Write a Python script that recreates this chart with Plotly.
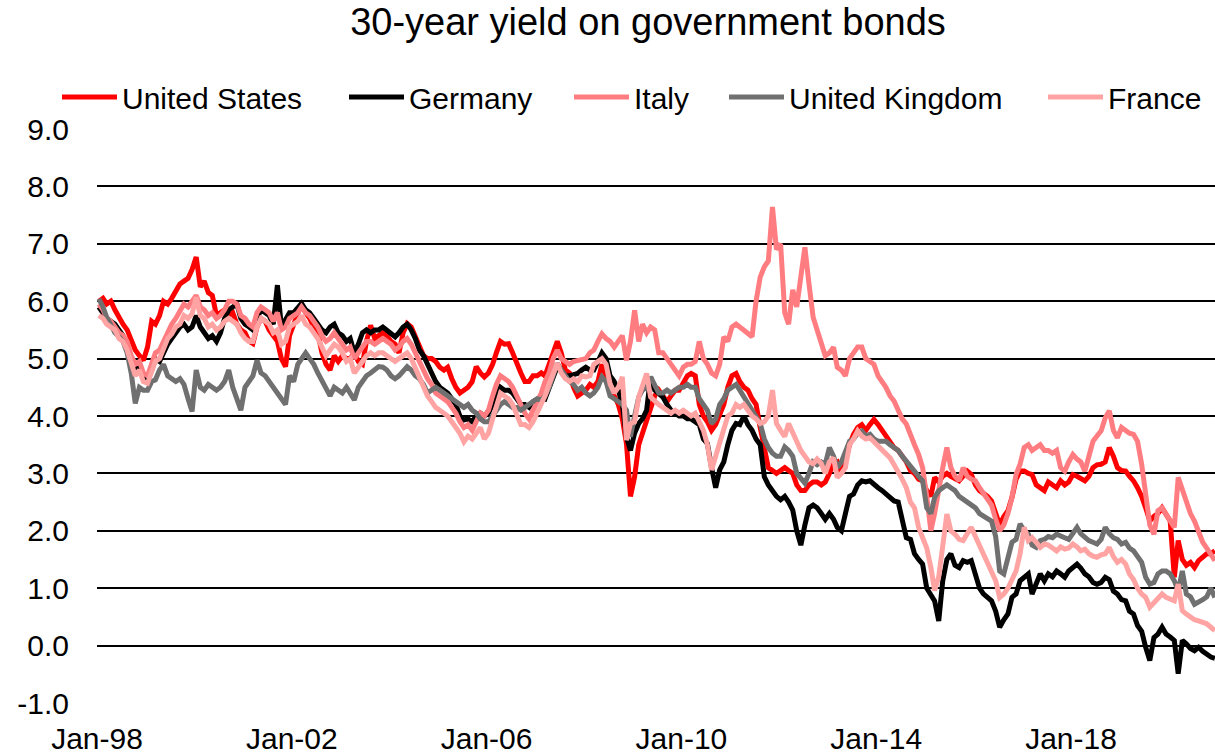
import pandas as pd
import plotly.graph_objects as go

# Monthly observations, Jan 1998 - Dec 2020 (plotted mid-month)
dates = pd.date_range("1998-01-01", "2020-12-01", freq="MS") + pd.Timedelta(days=14)

united_states = [
    6.00, 6.05, 5.95, 6.00, 5.85, 5.70, 5.60, 5.50, 5.30, 5.15, 5.05, 4.97,
    5.20, 5.65, 5.60, 5.75, 6.00, 5.95, 6.05, 6.20, 6.30, 6.35, 6.40, 6.55,
    6.77, 6.25, 6.35, 6.15, 6.10, 5.75, 5.80, 5.85, 5.75, 5.80, 5.60, 5.50,
    5.45, 5.30, 5.26, 5.55, 5.70, 5.65, 5.50, 5.40, 5.30, 5.00, 4.86, 5.40,
    5.60, 5.75, 5.96, 5.80, 5.70, 5.55, 5.45, 5.10, 4.90, 4.80, 5.05, 4.95,
    5.05, 5.00, 5.00, 5.10, 4.95, 4.90, 5.30, 5.58, 5.35, 5.40, 5.45, 5.40,
    5.30, 5.25, 5.10, 5.45, 5.61, 5.55, 5.40, 5.20, 5.05, 5.00, 5.00, 4.95,
    4.85, 4.80, 4.85, 4.65, 4.50, 4.40, 4.45, 4.50, 4.60, 4.86, 4.75, 4.68,
    4.75, 4.90, 5.10, 5.30, 5.25, 5.26, 5.10, 4.90, 4.75, 4.60, 4.60, 4.70,
    4.70, 4.75, 4.70, 4.90, 5.10, 5.30, 5.10, 4.80, 4.75, 4.50, 4.35, 4.40,
    4.45, 4.55, 4.50, 4.60, 4.90, 4.70, 4.50, 4.35, 4.20, 3.95, 3.52, 2.60,
    2.94, 3.50, 3.70, 3.90, 4.10, 4.35, 4.45, 4.33, 4.25, 4.35, 4.45, 4.45,
    4.60, 4.70, 4.74, 4.70, 4.20, 4.00, 3.90, 3.75, 3.85, 4.00, 4.20, 4.50,
    4.70, 4.74, 4.60, 4.50, 4.45, 4.30, 4.20, 3.80, 3.40, 3.10, 3.05, 3.00,
    3.05, 3.10, 3.05, 3.00, 2.80, 2.70, 2.70, 2.80, 2.85, 2.85, 2.80, 2.85,
    3.00, 3.17, 3.20, 3.00, 3.20, 3.50, 3.68, 3.80, 3.85, 3.75, 3.85, 3.94,
    3.85, 3.74, 3.65, 3.56, 3.45, 3.40, 3.30, 3.20, 3.05, 3.00, 2.90, 2.87,
    2.70, 2.60, 2.93, 2.85, 2.95, 3.00, 2.95, 2.90, 2.87, 2.95, 3.04, 2.98,
    2.80, 2.70, 2.65, 2.60, 2.52, 2.30, 2.10, 2.25, 2.35, 2.58, 2.90, 3.04,
    3.04, 3.00, 2.98, 2.80, 2.75, 2.70, 2.85, 2.80, 2.75, 2.87, 2.80, 2.85,
    2.98, 2.95, 2.90, 2.87, 2.95, 3.10, 3.15, 3.16, 3.20, 3.45, 3.30, 3.10,
    3.05, 3.04, 2.95, 2.87, 2.75, 2.60, 2.40, 2.17, 2.25, 2.30, 2.40, 2.30,
    2.17, 1.19, 1.83, 1.50, 1.40, 1.45, 1.36, 1.48, 1.55, 1.60, 1.60, 1.65,
]

germany = [
    5.90, 5.80, 5.70, 5.65, 5.60, 5.50, 5.40, 5.20, 4.95, 4.80, 4.90, 4.70,
    4.65, 4.80, 5.00, 4.95, 5.10, 5.25, 5.35, 5.45, 5.55, 5.60, 5.50, 5.55,
    5.75, 5.55, 5.45, 5.35, 5.40, 5.30, 5.45, 5.70, 5.85, 5.90, 5.95, 5.70,
    5.60, 5.55, 5.50, 5.70, 5.85, 5.80, 5.75, 5.60, 6.28, 5.55, 5.70, 5.80,
    5.80, 5.90, 5.96, 5.85, 5.80, 5.70, 5.60, 5.50, 5.45, 5.55, 5.60, 5.45,
    5.40, 5.30, 5.35, 5.10, 5.25, 5.45, 5.50, 5.45, 5.50, 5.50, 5.55, 5.50,
    5.45, 5.38, 5.45, 5.55, 5.60, 5.50, 5.35, 5.15, 5.05, 4.90, 4.75, 4.60,
    4.50, 4.45, 4.40, 4.30, 4.20, 4.00, 3.93, 3.95, 3.90, 4.00, 4.05, 4.00,
    4.05, 4.20, 4.35, 4.50, 4.45, 4.45, 4.40, 4.30, 4.20, 4.20, 4.15, 4.25,
    4.30, 4.33, 4.30, 4.50, 4.70, 4.86, 4.80, 4.70, 4.70, 4.72, 4.74, 4.80,
    4.85, 4.80, 4.80, 4.95, 5.10, 5.00, 4.70, 4.60, 4.45, 4.20, 3.64, 3.40,
    3.70, 3.87, 3.95, 4.10, 4.68, 4.45, 4.40, 4.33, 4.20, 4.10, 4.05, 4.00,
    4.00, 3.95, 3.95, 3.90, 3.85, 3.60, 3.52, 3.10, 2.75, 3.06, 3.20, 3.50,
    3.75, 3.87, 3.85, 4.00, 3.85, 3.75, 3.60, 3.50, 2.94, 2.80, 2.70, 2.60,
    2.54, 2.60, 2.50, 2.36, 2.00, 1.75, 2.10, 2.40, 2.45, 2.40, 2.30, 2.20,
    2.30, 2.20, 2.06, 2.00, 2.30, 2.60, 2.64, 2.80, 2.87, 2.85, 2.87, 2.80,
    2.75, 2.70, 2.64, 2.60, 2.52, 2.50, 2.17, 1.88, 1.85, 1.60, 1.50, 1.42,
    1.00, 0.90, 0.78, 0.43, 1.13, 1.50, 1.60, 1.40, 1.36, 1.48, 1.45, 1.48,
    1.25, 1.00, 0.90, 0.85, 0.78, 0.60, 0.32, 0.45, 0.55, 0.84, 0.90, 1.13,
    1.20, 1.25, 0.90, 1.10, 1.25, 1.13, 1.25, 1.20, 1.30, 1.25, 1.19, 1.30,
    1.36, 1.42, 1.35, 1.25, 1.20, 1.10, 1.07, 1.10, 1.19, 1.15, 0.95, 0.90,
    0.80, 0.78, 0.60, 0.55, 0.35, 0.25, -0.03, -0.26, 0.14, 0.20, 0.32, 0.20,
    0.15, 0.09, -0.49, 0.09, 0.03, -0.05, -0.09, -0.03, -0.10, -0.15, -0.20, -0.22,
]

italy = [
    5.95, 5.85, 5.70, 5.65, 5.55, 5.45, 5.40, 5.30, 5.05, 4.90, 4.95, 4.75,
    4.70, 4.95, 5.10, 5.15, 5.30, 5.50, 5.60, 5.70, 5.85, 5.95, 5.90, 6.00,
    6.10, 5.90, 5.85, 5.75, 5.80, 5.70, 5.75, 5.85, 6.00, 6.00, 5.95, 5.75,
    5.70, 5.60, 5.55, 5.80, 5.90, 5.85, 5.80, 5.65, 5.80, 5.50, 5.55, 5.70,
    5.75, 5.80, 5.90, 5.80, 5.75, 5.65, 5.55, 5.40, 5.30, 5.35, 5.45, 5.35,
    5.25, 5.15, 5.20, 5.00, 5.10, 5.20, 5.30, 5.30, 5.25, 5.30, 5.35, 5.30,
    5.25, 5.15, 5.20, 5.30, 5.35, 5.25, 5.10, 4.95, 4.80, 4.65, 4.55, 4.40,
    4.35, 4.30, 4.25, 4.15, 4.05, 3.90, 3.80, 3.85, 3.75, 3.90, 4.05, 4.00,
    4.10, 4.35, 4.55, 4.70, 4.65, 4.60, 4.50, 4.35, 4.15, 4.05, 3.95, 4.10,
    4.25, 4.40, 4.60, 4.75, 5.00, 5.15, 5.00, 4.95, 4.90, 4.95, 4.97, 4.97,
    5.00, 5.10, 5.15, 5.30, 5.43, 5.35, 5.30, 5.20, 5.30, 5.40, 4.97, 5.30,
    5.84, 5.30, 5.60, 5.45, 5.55, 5.50, 5.10, 5.10, 5.00, 4.90, 4.80, 4.70,
    4.85, 4.90, 4.90, 4.95, 5.30, 5.00, 4.90, 4.75, 4.70, 4.90, 5.38, 5.30,
    5.55, 5.60, 5.55, 5.50, 5.45, 5.38, 6.00, 6.42, 6.60, 6.70, 7.64, 6.90,
    7.00, 5.80, 5.60, 6.20, 5.90, 6.48, 6.94, 6.30, 5.72, 5.50, 5.30, 5.05,
    5.10, 5.20, 4.85, 4.80, 4.70, 5.00, 5.10, 5.20, 5.20, 5.00, 4.95, 4.90,
    4.70, 4.60, 4.50, 4.35, 4.26, 4.10, 3.95, 3.86, 3.70, 3.50, 3.33, 3.10,
    2.60, 2.00, 2.30, 2.75, 3.10, 3.45, 3.10, 2.95, 2.87, 3.10, 2.95, 2.90,
    2.87, 2.75, 2.65, 2.58, 2.45, 2.20, 2.00, 2.10, 2.30, 2.58, 2.98, 3.16,
    3.45, 3.50, 3.40, 3.45, 3.50, 3.40, 3.40, 3.35, 3.40, 3.10, 3.04, 3.20,
    3.33, 3.25, 3.20, 3.04, 3.30, 3.56, 3.65, 3.74, 3.97, 4.09, 3.75, 3.62,
    3.80, 3.74, 3.70, 3.68, 3.56, 3.16, 2.60, 2.10, 1.94, 2.35, 2.40, 2.29,
    2.20, 2.06, 2.93, 2.70, 2.50, 2.30, 2.17, 1.95, 1.80, 1.70, 1.60, 1.48,
]

united_kingdom = [
    6.04, 5.90, 5.72, 5.60, 5.45, 5.38, 5.30, 5.10, 4.74, 4.22, 4.50, 4.45,
    4.45, 4.60, 4.63, 4.80, 4.90, 4.70, 4.65, 4.60, 4.65, 4.55, 4.30, 4.08,
    4.80, 4.50, 4.45, 4.55, 4.50, 4.45, 4.50, 4.60, 4.80, 4.50, 4.30, 4.10,
    4.50, 4.60, 4.70, 4.97, 4.75, 4.70, 4.60, 4.50, 4.40, 4.30, 4.20, 4.70,
    4.60, 4.90, 5.00, 5.10, 5.00, 4.90, 4.75, 4.60, 4.45, 4.35, 4.50, 4.45,
    4.40, 4.50, 4.40, 4.28, 4.50, 4.60, 4.70, 4.75, 4.80, 4.86, 4.85, 4.80,
    4.70, 4.65, 4.70, 4.80, 4.86, 4.80, 4.70, 4.65, 4.55, 4.40, 4.45, 4.50,
    4.45, 4.40, 4.35, 4.30, 4.25, 4.20, 4.15, 4.20, 4.10, 4.05, 3.95, 3.90,
    3.90, 4.00, 4.10, 4.20, 4.25, 4.20, 4.15, 4.15, 4.10, 4.15, 4.20, 4.25,
    4.30, 4.28, 4.35, 4.50, 4.70, 4.92, 4.80, 4.70, 4.60, 4.55, 4.45, 4.50,
    4.40, 4.35, 4.40, 4.50, 4.68, 4.60, 4.35, 4.30, 4.25, 4.20, 4.10, 3.64,
    4.00, 4.33, 4.45, 4.50, 4.68, 4.55, 4.40, 4.40, 4.45, 4.40, 4.45, 4.50,
    4.50, 4.55, 4.50, 4.50, 4.30, 4.20, 4.10, 3.87, 3.95, 4.20, 4.30, 4.45,
    4.50, 4.55, 4.45, 4.33, 4.25, 4.10, 4.00, 3.87, 3.60, 3.45, 3.35, 3.30,
    3.30, 3.46, 3.40, 3.30, 3.00, 2.90, 2.83, 3.00, 3.20, 3.15, 3.20, 3.16,
    3.45, 3.30, 3.10, 3.20, 3.40, 3.56, 3.60, 3.70, 3.74, 3.65, 3.68, 3.60,
    3.56, 3.55, 3.56, 3.50, 3.45, 3.40, 3.30, 3.20, 3.10, 3.04, 2.95, 2.87,
    2.40, 2.30, 2.58, 2.70, 2.75, 2.80, 2.75, 2.70, 2.60, 2.55, 2.52, 2.45,
    2.40, 2.30, 2.25, 2.20, 2.17, 1.90, 1.30, 1.25, 1.55, 1.80, 1.85, 2.12,
    2.00, 1.94, 1.75, 1.71, 1.83, 1.85, 1.90, 1.88, 1.94, 1.90, 1.88, 1.85,
    1.94, 2.06, 1.95, 1.88, 1.83, 1.80, 1.77, 1.85, 2.06, 1.95, 1.88, 1.85,
    1.77, 1.80, 1.70, 1.65, 1.54, 1.45, 1.19, 1.07, 1.10, 1.25, 1.30, 1.30,
    1.25, 1.13, 0.95, 1.30, 0.90, 0.85, 0.72, 0.75, 0.80, 0.85, 1.00, 0.84,
]

france = [
    5.75, 5.70, 5.60, 5.55, 5.50, 5.35, 5.30, 5.15, 4.90, 4.70, 4.80, 4.60,
    4.57, 4.80, 4.95, 5.00, 5.15, 5.35, 5.43, 5.55, 5.60, 5.75, 5.70, 5.78,
    6.07, 5.75, 5.70, 5.55, 5.60, 5.50, 5.55, 5.65, 5.70, 5.65, 5.60, 5.45,
    5.35, 5.30, 5.30, 5.55, 5.70, 5.65, 5.60, 5.45, 5.50, 5.25, 5.30, 5.55,
    5.60, 5.65, 5.75, 5.60, 5.55, 5.45, 5.35, 5.20, 5.05, 5.15, 5.25, 5.20,
    5.10, 4.95, 5.00, 4.75, 4.85, 4.95, 5.05, 5.10, 5.05, 5.10, 5.10, 5.05,
    5.00, 4.95, 5.00, 5.05, 5.10, 5.00, 4.85, 4.70, 4.55, 4.35, 4.25, 4.15,
    4.10, 4.05, 4.00, 3.90, 3.80, 3.70, 3.55, 3.65, 3.60, 3.70, 3.80, 3.60,
    3.70, 3.95, 4.20, 4.40, 4.35, 4.30, 4.20, 4.00, 3.85, 3.85, 3.80, 3.90,
    4.05, 4.20, 4.35, 4.55, 4.75, 4.92, 4.75, 4.65, 4.60, 4.65, 4.60, 4.70,
    4.68, 4.70, 4.90, 4.95, 5.00, 4.90, 4.56, 4.40, 4.50, 4.68, 3.58, 3.87,
    3.90, 4.33, 4.50, 4.74, 4.33, 4.25, 4.20, 4.15, 4.10, 4.05, 4.10, 4.05,
    4.10, 4.05, 4.00, 4.05, 3.90, 3.75, 3.50, 3.06, 3.30, 3.52, 3.80, 4.00,
    4.05, 4.20, 4.15, 4.20, 4.10, 4.00, 3.95, 3.87, 3.90, 4.00, 4.45, 3.87,
    3.75, 3.64, 3.87, 3.70, 3.52, 3.40, 3.30, 3.20, 3.17, 3.25, 3.17, 3.00,
    3.20, 3.27, 2.93, 3.00, 3.10, 3.50, 3.60, 3.74, 3.65, 3.60, 3.62, 3.55,
    3.50, 3.40, 3.35, 3.27, 3.15, 3.04, 2.90, 2.75, 2.50, 2.40, 2.06, 1.88,
    1.70, 1.36, 0.96, 1.20, 1.71, 2.29, 2.00, 1.94, 1.85, 1.83, 1.95, 2.06,
    1.90, 1.75, 1.60, 1.45, 1.30, 1.13, 0.84, 0.90, 1.00, 1.13, 1.30, 1.60,
    2.06, 1.83, 1.88, 1.80, 1.71, 1.77, 1.75, 1.70, 1.65, 1.72, 1.68, 1.70,
    1.77, 1.72, 1.65, 1.68, 1.60, 1.56, 1.54, 1.58, 1.60, 1.71, 1.55, 1.45,
    1.50, 1.42, 1.25, 1.15, 1.00, 0.90, 0.84, 0.67, 0.75, 0.85, 0.90, 0.84,
    0.80, 0.78, 1.07, 0.61, 0.55, 0.50, 0.45, 0.43, 0.40, 0.38, 0.32, 0.26,
]

series_names = ["United States", "Germany", "Italy", "United Kingdom", "France"]
series_values = [united_states, germany, italy, united_kingdom, france]
series_colors = ["#FF0000", "#000000", "#FF7C80", "#707070", "#FFA3A3"]

x_tick_years = [1998, 2002, 2006, 2010, 2014, 2018]
x_tick_labels = ["Jan-98", "Jan-02", "Jan-06", "Jan-10", "Jan-14", "Jan-18"]
y_tick_values = [-1, 0, 1, 2, 3, 4, 5, 6, 7, 8, 9]

FONT = "Liberation Sans, Arial, sans-serif"
W, H = 1215, 755
M_L, M_R, M_T, M_B = 97, 0, 129, 52
plot_w = W - M_L - M_R
plot_h = H - M_T - M_B

# each legend entry gets its own legend box so the row spacing follows the text
legend_left_px = [57, 344, 569, 724, 1043]
legend_keys = ["legend", "legend2", "legend3", "legend4", "legend5"]

fig = go.Figure()
for name, vals, color, lkey in zip(series_names, series_values, series_colors, legend_keys):
    fig.add_trace(go.Scatter(
        x=dates, y=vals, name=name, mode="lines",
        line=dict(color=color, width=5),
        legend=lkey,
    ))

legend_y = 1 + (M_T - 97) / plot_h
legend_layouts = {}
for lkey, px in zip(legend_keys, legend_left_px):
    legend_layouts[lkey] = dict(
        x=(px - M_L) / plot_w, xanchor="left",
        y=legend_y, yanchor="middle",
        orientation="h", itemwidth=55,
        font=dict(family=FONT, size=30, color="#000000"),
        bgcolor="rgba(0,0,0,0)", borderwidth=0,
        tracegroupgap=0,
    )

fig.update_layout(
    width=W, height=H,
    margin=dict(l=M_L, r=M_R, t=M_T, b=M_B, pad=0),
    paper_bgcolor="#FFFFFF", plot_bgcolor="#FFFFFF",
    font=dict(family=FONT, color="#000000"),
    title=dict(
        text="30-year yield on government bonds",
        x=648 / W, xanchor="center", xref="container",
        y=1 - 22 / H, yanchor="middle", yref="container",
        font=dict(family=FONT, size=38, color="#000000"),
    ),
    showlegend=True,
    **legend_layouts,
)

fig.update_xaxes(
    type="date",
    range=["1998-01-01", "2020-12-16"],
    tickvals=[pd.Timestamp(f"{y}-01-01") for y in x_tick_years],
    ticktext=x_tick_labels,
    showgrid=False, zeroline=False, showline=False, ticks="",
    tickfont=dict(family=FONT, size=30, color="#000000"),
    ticklabelstandoff=15,
)
fig.update_yaxes(
    range=[-1, 9],
    tickvals=y_tick_values,
    ticktext=[f"{v:.1f}" for v in y_tick_values],
    showgrid=True, gridcolor="#000000", gridwidth=2,
    zeroline=False, showline=False, ticks="",
    tickfont=dict(family=FONT, size=30, color="#000000"),
    ticklabelstandoff=27,
)

fig.write_html("out.html")
